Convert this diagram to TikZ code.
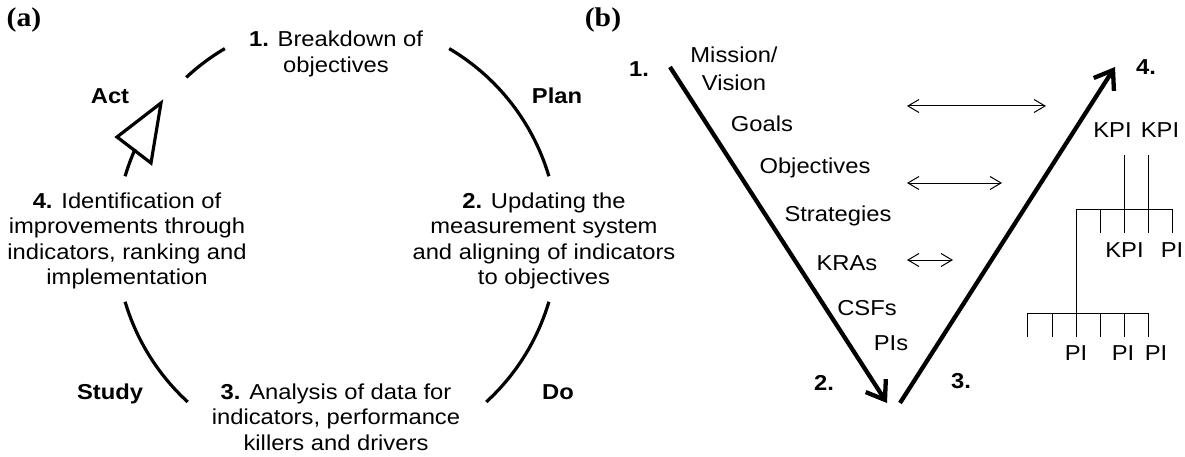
\documentclass[tikz,border=0pt]{standalone}
\usepackage{fontspec}
\setmainfont{Liberation Sans}[FakeStretch=1.1]
\newfontfamily\labfont{Liberation Serif}[FakeStretch=1.1]
\usetikzlibrary{arrows.meta}
\begin{document}
\begin{tikzpicture}[x=1pt,y=1pt,
  txt/.style={inner sep=0pt, align=center, font=\fontsize{21.6}{25.3}\selectfont},
  lbl/.style={inner sep=0pt, anchor=base, font=\fontsize{21.6}{25.3}\selectfont\bfseries},
  wrd/.style={inner sep=0pt, anchor=base, font=\fontsize{21.6}{25.3}\selectfont},
  panel/.style={inner sep=0pt, font=\labfont\bfseries\fontsize{27}{30}\selectfont},
  cyc/.style={line width=3.2pt},
  vline/.style={line width=4.3pt, -{Straight Barb[length=17pt,width=24pt]}},
  link/.style={line width=1pt, {Straight Barb[length=11pt,width=13pt]}-{Straight Barb[length=11pt,width=13pt]}},
  tree/.style={line width=1pt}
]
\useasboundingbox (0,0) rectangle (1185,456);
% ---------- (a) ----------
\coordinate (C) at (337,217);
\draw[cyc] (C) ++(120.5:221) arc[start angle=120.5, end angle=133, radius=221];
\draw[cyc] (C) ++(59.5:221) arc[start angle=59.5, end angle=16.5, radius=221];
\draw[cyc] (C) ++(-16.5:221) arc[start angle=-16.5, end angle=-47.5, radius=221];
\draw[cyc] (C) ++(-132.5:221) arc[start angle=-132.5, end angle=-163.5, radius=221];
\draw[cyc] (C) ++(163.5:221) arc[start angle=163.5, end angle=156, radius=221];
\coordinate (tipA) at (161,353);
\coordinate (tipB) at (117,319);
\coordinate (tipC) at (151,293);
\draw[cyc, line join=miter] (tipA) -- (tipB) -- (tipC) -- cycle;

\node[panel] (pa) at (24,436) {(a)};
\node[panel] (pb) at (603,436) {(b)};
\node[txt] (s1) at (336,402) {\textbf{1.} Breakdown of\\objectives};
\node[txt] (s2) at (544,215) {\textbf{2.} Updating the\\measurement system\\and aligning of indicators\\to objectives};
\node[txt] (s3) at (336,39) {\textbf{3.} Analysis of data for\\indicators, performance\\killers and drivers};
\node[txt] (s4) at (127,215) {\textbf{4.} Identification of\\improvements through\\indicators, ranking and\\implementation};
\node[lbl] (act) at (110,352) {Act};
\node[lbl] (plan) at (557,352) {Plan};
\node[lbl] (study) at (110,57) {Study};
\node[lbl] (do) at (558,57) {Do};
% ---------- (b) ----------
\node[lbl] (n1) at (639,379) {1.};
\node[lbl] (n2) at (824,66) {2.};
\node[lbl] (n3) at (961,68) {3.};
\node[lbl] (n4) at (1146,381) {4.};
\node[txt] (mv) at (734,387) {Mission/\\[3pt]Vision};
\node[wrd] (goals) at (762,324) {Goals};
\node[wrd] (obj) at (815,283) {Objectives};
\node[wrd] (strat) at (838,235) {Strategies};
\node[wrd] (kra) at (847,186) {KRAs};
\node[wrd] (csf) at (867,141) {CSFs};
\node[wrd] (pis) at (891,106) {PIs};

\coordinate (vA) at (670,389);
\coordinate (vB) at (887,53);
\coordinate (vC) at (900,53);
\coordinate (vD) at (1115,389);
\draw[vline] (vA) -- (vB);
\draw[vline] (vC) -- (vD);

\coordinate (l1a) at (907,350); \coordinate (l1b) at (1046,350);
\coordinate (l2a) at (907,273); \coordinate (l2b) at (1002,273);
\coordinate (l3a) at (907,196); \coordinate (l3b) at (953,196);
\draw[link] (l1a) -- (l1b);
\draw[link] (l2a) -- (l2b);
\draw[link] (l3a) -- (l3b);

\node[wrd] (k1) at (1112.5,319) {KPI};
\node[wrd] (k2) at (1160,319) {KPI};
\node[wrd] (k3) at (1124.5,199) {KPI};
\node[wrd] (p1) at (1172,199) {PI};
\node[wrd] (p2) at (1076,96) {PI};
\node[wrd] (p3) at (1123,96) {PI};
\node[wrd] (p4) at (1156,96) {PI};

% tree
\draw[tree] (1124,301) -- (1124,223);
\draw[tree] (1148,301) -- (1148,223);
\draw[tree] (1076,247) -- (1172,247);
\draw[tree] (1100,247) -- (1100,223);
\draw[tree] (1172,247) -- (1172,223);
\draw[tree] (1076,247) -- (1076,143);
\draw[tree] (1027,143) -- (1148,143);
\foreach \xx in {1027,1052,1076,1100,1124,1148}
  \draw[tree] (\xx,143) -- (\xx,119);
\end{tikzpicture}
\end{document}
